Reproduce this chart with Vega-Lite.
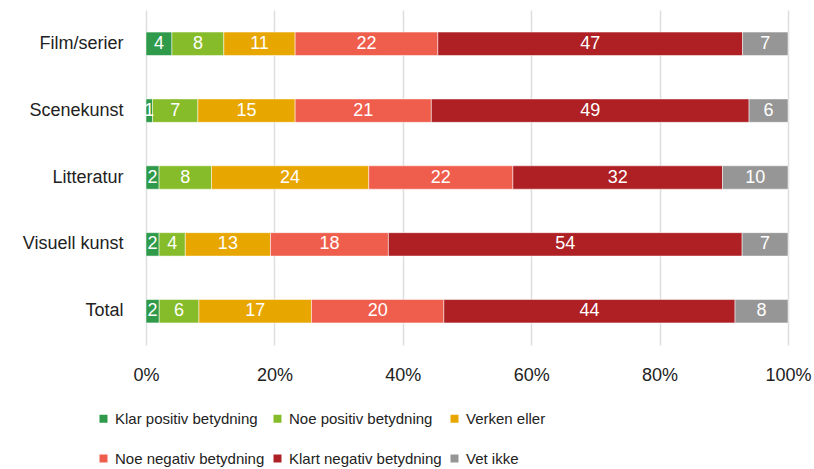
{
  "$schema": "https://vega.github.io/schema/vega-lite/v6.json",
  "autosize": "none",
  "width": 642,
  "height": 335,
  "padding": {"left": 146, "top": 10, "right": 26, "bottom": 124},
  "background": "white",
  "config": {
    "font": "Liberation Sans",
    "view": {"stroke": null}
  },
  "data": {
    "values": [
      {"kategori": "Film/serier", "svar": "Klar positiv betydning", "k": 1, "verdi": 4},
      {"kategori": "Film/serier", "svar": "Noe positiv betydning", "k": 2, "verdi": 8},
      {"kategori": "Film/serier", "svar": "Verken eller", "k": 3, "verdi": 11},
      {"kategori": "Film/serier", "svar": "Noe negativ betydning", "k": 4, "verdi": 22},
      {"kategori": "Film/serier", "svar": "Klart negativ betydning", "k": 5, "verdi": 47},
      {"kategori": "Film/serier", "svar": "Vet ikke", "k": 6, "verdi": 7},
      {"kategori": "Scenekunst", "svar": "Klar positiv betydning", "k": 1, "verdi": 1},
      {"kategori": "Scenekunst", "svar": "Noe positiv betydning", "k": 2, "verdi": 7},
      {"kategori": "Scenekunst", "svar": "Verken eller", "k": 3, "verdi": 15},
      {"kategori": "Scenekunst", "svar": "Noe negativ betydning", "k": 4, "verdi": 21},
      {"kategori": "Scenekunst", "svar": "Klart negativ betydning", "k": 5, "verdi": 49},
      {"kategori": "Scenekunst", "svar": "Vet ikke", "k": 6, "verdi": 6},
      {"kategori": "Litteratur", "svar": "Klar positiv betydning", "k": 1, "verdi": 2},
      {"kategori": "Litteratur", "svar": "Noe positiv betydning", "k": 2, "verdi": 8},
      {"kategori": "Litteratur", "svar": "Verken eller", "k": 3, "verdi": 24},
      {"kategori": "Litteratur", "svar": "Noe negativ betydning", "k": 4, "verdi": 22},
      {"kategori": "Litteratur", "svar": "Klart negativ betydning", "k": 5, "verdi": 32},
      {"kategori": "Litteratur", "svar": "Vet ikke", "k": 6, "verdi": 10},
      {"kategori": "Visuell kunst", "svar": "Klar positiv betydning", "k": 1, "verdi": 2},
      {"kategori": "Visuell kunst", "svar": "Noe positiv betydning", "k": 2, "verdi": 4},
      {"kategori": "Visuell kunst", "svar": "Verken eller", "k": 3, "verdi": 13},
      {"kategori": "Visuell kunst", "svar": "Noe negativ betydning", "k": 4, "verdi": 18},
      {"kategori": "Visuell kunst", "svar": "Klart negativ betydning", "k": 5, "verdi": 54},
      {"kategori": "Visuell kunst", "svar": "Vet ikke", "k": 6, "verdi": 7},
      {"kategori": "Total", "svar": "Klar positiv betydning", "k": 1, "verdi": 2},
      {"kategori": "Total", "svar": "Noe positiv betydning", "k": 2, "verdi": 6},
      {"kategori": "Total", "svar": "Verken eller", "k": 3, "verdi": 17},
      {"kategori": "Total", "svar": "Noe negativ betydning", "k": 4, "verdi": 20},
      {"kategori": "Total", "svar": "Klart negativ betydning", "k": 5, "verdi": 44},
      {"kategori": "Total", "svar": "Vet ikke", "k": 6, "verdi": 8}
    ]
  },
  "transform": [
    {"stack": "verdi", "groupby": ["kategori"], "sort": [{"field": "k", "order": "ascending"}], "as": ["x0", "x1"], "offset": "normalize"},
    {"calculate": "(datum.x0 + datum.x1) / 2", "as": "xmid"}
  ],
  "encoding": {
    "y": {
      "field": "kategori",
      "type": "nominal",
      "sort": ["Film/serier", "Scenekunst", "Litteratur", "Visuell kunst", "Total"],
      "scale": {"paddingInner": 0.65, "paddingOuter": 0.33},
      "axis": {
        "title": null,
        "ticks": false,
        "domain": false,
        "labelFontSize": 18,
        "labelColor": "#222222",
        "labelPadding": 23
      }
    }
  },
  "layer": [
    {
      "mark": {"type": "bar", "stroke": "white", "strokeWidth": 0.5},
      "encoding": {
        "x": {
          "field": "x0",
          "type": "quantitative",
          "scale": {"domain": [0, 1], "nice": false},
          "axis": {
            "title": null,
            "format": ".0%",
            "values": [0, 0.2, 0.4, 0.6, 0.8, 1],
            "ticks": false,
            "domain": false,
            "grid": true,
            "gridColor": "#dedede",
            "gridWidth": 1.5,
            "labelFontSize": 18,
            "labelColor": "#222222",
            "labelPadding": 21,
            "labelFlush": false
          }
        },
        "x2": {"field": "x1"},
        "color": {
          "field": "svar",
          "type": "nominal",
          "scale": {
            "domain": ["Klar positiv betydning", "Noe positiv betydning", "Verken eller", "Noe negativ betydning", "Klart negativ betydning", "Vet ikke"],
            "range": ["#2e9a4a", "#86bc2a", "#e8a600", "#ef5e4c", "#ae2024", "#969696"]
          },
          "legend": {
            "title": null,
            "orient": "none",
            "legendX": -50,
            "legendY": 401,
            "direction": "horizontal",
            "columns": 3,
            "symbolType": "square",
            "symbolSize": 64,
            "symbolStrokeWidth": 0,
            "symbolOffset": 0,
            "labelFontSize": 15,
            "labelLimit": 400,
            "labelColor": "#222222",
            "labelOffset": 4,
            "columnPadding": 5,
            "rowPadding": 24
          }
        }
      }
    },
    {
      "mark": {"type": "text", "color": "white", "fontSize": 18, "align": "center", "baseline": "middle"},
      "encoding": {
        "x": {"field": "xmid", "type": "quantitative"},
        "text": {"field": "verdi", "type": "quantitative"}
      }
    }
  ]
}
